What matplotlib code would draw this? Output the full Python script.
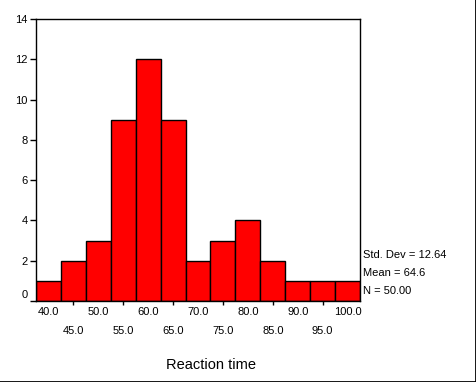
import numpy as np
import matplotlib
matplotlib.use("Agg")
import matplotlib.pyplot as plt
import matplotlib.transforms as mtransforms
from matplotlib.lines import Line2D

plt.rcParams['font.family'] = ['Liberation Sans', 'DejaVu Sans']

# histogram data (bin centres, counts)
bin_centers = [40, 45, 50, 55, 60, 65, 70, 75, 80, 85, 90, 95, 100]
counts = [1, 2, 3, 9, 12, 9, 2, 3, 4, 2, 1, 1, 1]
bin_width = 5

stats_labels = ["Std. Dev = 12.64", "Mean = 64.6", "N = 50.00"]
x_label = "Reaction time"


def main():
    fig = plt.figure(figsize=(4.77, 3.82), dpi=100)
    W, H = 477, 382
    ax = fig.add_axes([36 / W, 1 - 301 / H, (360 - 36) / W, (301 - 19) / H])

    ax.bar(bin_centers, counts, width=bin_width, color="#ff0000",
           edgecolor="black", linewidth=1.0)

    ax.set_xlim(bin_centers[0] - bin_width / 2, bin_centers[-1] + bin_width / 2)
    ax.set_ylim(0, 14)
    ax.set_yticks(range(0, 15, 2))
    ax.tick_params(axis="y", direction="out", length=4, width=1,
                   labelsize=8, pad=2)

    # the bottom label sits a bit above its tick, like SPSS does it
    fig.canvas.draw()
    lbl0 = ax.get_yticklabels()[0]
    lbl0.set_transform(lbl0.get_transform() +
                       mtransforms.ScaledTranslation(0, 5 / 72, fig.dpi_scale_trans))

    # staggered x labels: odd bins on the lower row with ticks,
    # even bins on the upper row
    ax.set_xticks(bin_centers[1::2])
    ax.set_xticklabels(["%.1f" % v for v in bin_centers[1::2]], fontsize=8)
    ax.tick_params(axis="x", direction="out", length=3, width=1, pad=15)
    for v in bin_centers[0::2]:
        ax.annotate("%.1f" % v, xy=(v, 0), xycoords=("data", "axes fraction"),
                    xytext=(0, -4), textcoords="offset points",
                    ha="center", va="top", fontsize=8)

    for sp in ax.spines.values():
        sp.set_linewidth(1.0)

    for i, s in enumerate(stats_labels):
        fig.text(363 / W, 1 - (255 + 18 * i) / H, s, ha="left", va="center",
                 fontsize=8)

    fig.text(211 / W, 1 - 365 / H, x_label, ha="center", va="center",
             fontsize=10.5)

    # outer frame on right and bottom
    fig.add_artist(Line2D([0, 1], [0.5 / H, 0.5 / H], color="black",
                          linewidth=2, transform=fig.transFigure))
    fig.add_artist(Line2D([1 - 1 / W, 1 - 1 / W], [0, 1], color="black",
                          linewidth=2, transform=fig.transFigure))

    fig.savefig("out.png", dpi=100)


if __name__ == "__main__":
    main()
